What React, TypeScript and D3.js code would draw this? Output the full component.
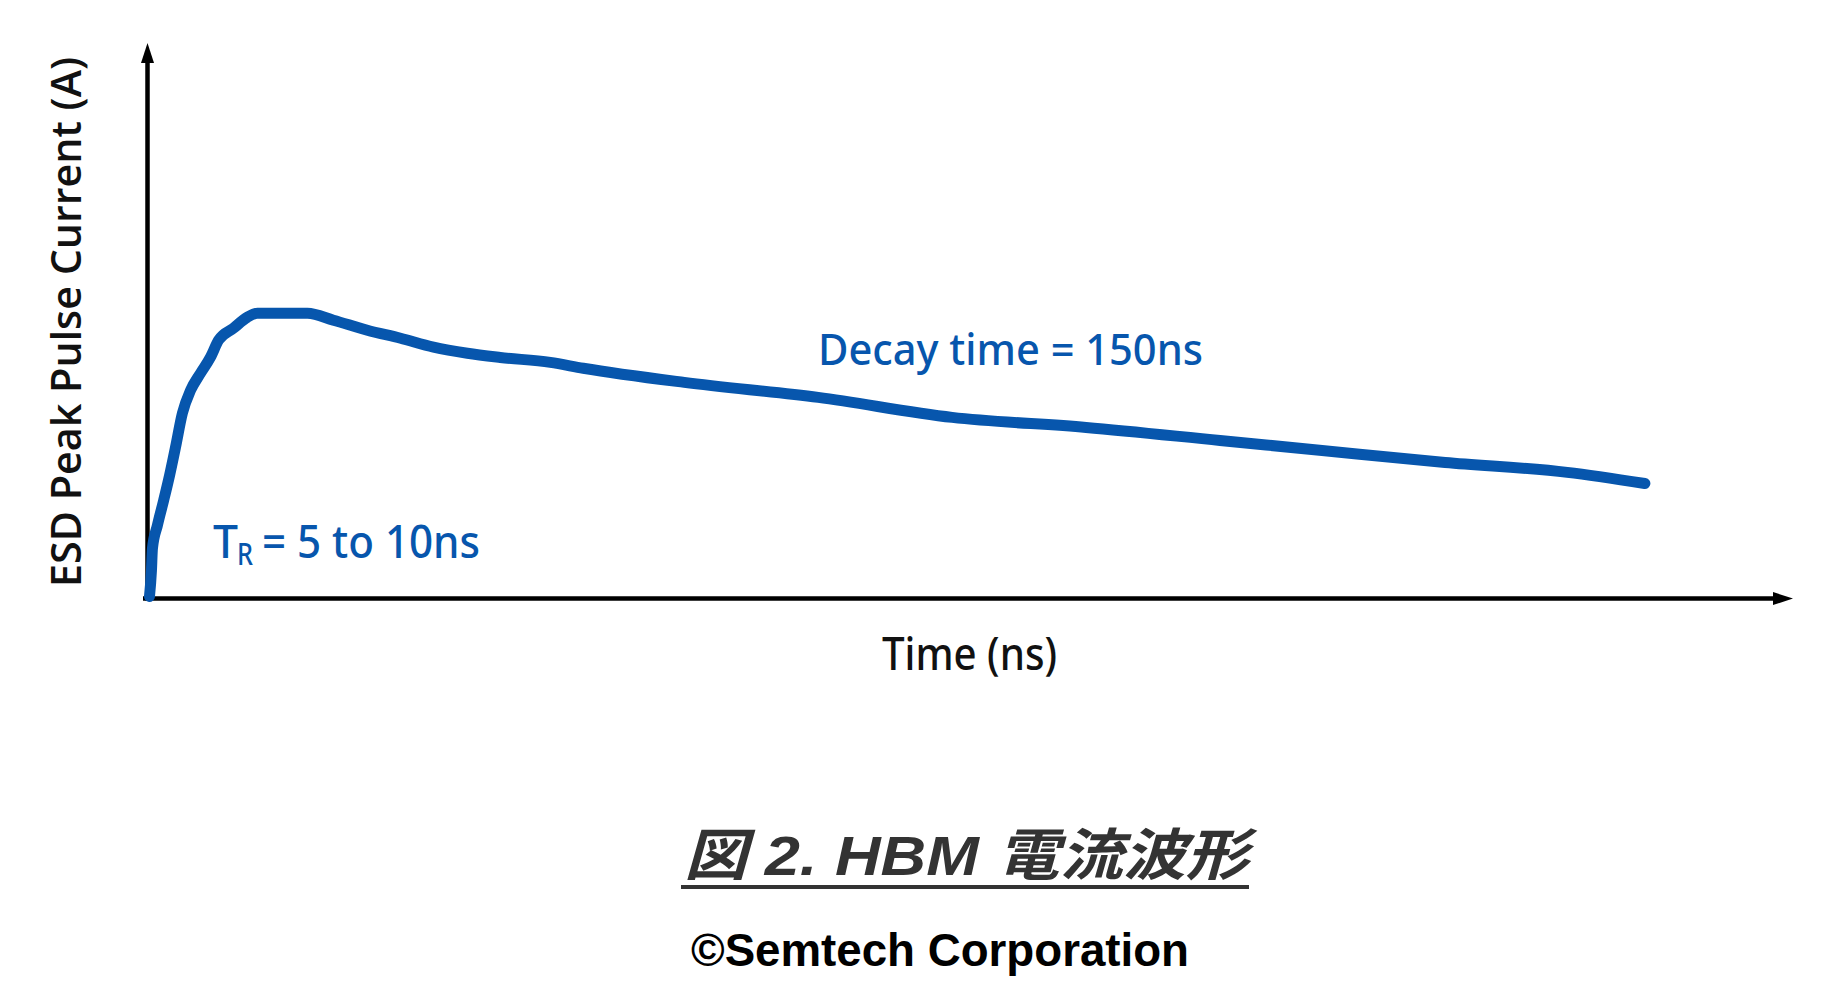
import React from "react";
import * as d3 from "d3";

// Time (ns) and current (A)
const timeNs = [
  0.6, 1.2, 1.5, 3.0, 4.9, 6.7, 8.5, 10.6, 13.1, 16.1, 19.1, 21.6, 26.1, 30.4,
  33.4, 48.6, 56.5, 66.8, 76.9, 86.9, 97.2, 107.2, 122.4, 132.4, 163.1, 203.8,
  244.5, 285.2, 325.9, 356.9, 394.3, 431.4, 455.0,
];
const currentA = [
  0.007, 0.101, 0.18, 0.263, 0.353, 0.443, 0.544, 0.667, 0.75, 0.811, 0.868,
  0.93, 0.973, 1.013, 1.027, 1.027, 1.002, 0.966, 0.937, 0.905, 0.883, 0.868,
  0.85, 0.829, 0.778, 0.724, 0.652, 0.616, 0.569, 0.533, 0.49, 0.454, 0.414,
];
const xDomain = [0, 500];
const yDomain = [0, 2];

const yLabel = "ESD Peak Pulse Current (A)";
const xLabel = "Time (ns)";
const decayLabel = "Decay time = 150ns";
const riseMain = "T";
const riseSub = "R";
const riseRest = "= 5 to 10ns";
const caption = "図 2. HBM 電流波形";
const credit = "©Semtech Corporation";

const BLUE = "#0756ad";

export default function App() {
  const W = 1840;
  const H = 1004;
  const x = d3.scaleLinear().domain(xDomain).range([147.5, 1793]);
  const y = d3.scaleLinear().domain(yDomain).range([598.5, 43]);
  const pts: [number, number][] = timeNs.map((t, i) => [t, currentA[i]]);
  const line = d3
    .line<[number, number]>()
    .x((d) => x(d[0]))
    .y((d) => y(d[1]))
    .curve(d3.curveMonotoneX);

  const x0 = x(0);
  const y0 = y(0);
  const xTip = x(xDomain[1]);
  const yTip = y(yDomain[1]);
  const head = 20;
  const half = 6.5;

  return (
    <svg
      width={W}
      height={H}
      style={{ position: "absolute", left: 0, top: 0, background: "#fff" }}
    >
      <rect x={0} y={0} width={W} height={H} fill="#fff" />
      {/* axes */}
      <line x1={x0} y1={y0 + 2} x2={x0} y2={yTip + head - 1} stroke="#000" strokeWidth={4.5} />
      <path
        d={`M${x0},${yTip} L${x0 - half},${yTip + head} L${x0 + half},${yTip + head} Z`}
        fill="#000"
      />
      <line x1={x0 - 4.5} y1={y0} x2={xTip - head + 1} y2={y0} stroke="#000" strokeWidth={4.5} />
      <path
        d={`M${xTip},${y0} L${xTip - head},${y0 - half} L${xTip - head},${y0 + half} Z`}
        fill="#000"
      />

      {/* waveform */}
      <path
        d={line(pts) || ""}
        fill="none"
        stroke={BLUE}
        strokeWidth={11}
        strokeLinecap="round"
        strokeLinejoin="round"
      />

      {/* annotations */}
      <text
        x={818}
        y={365}
        fill={BLUE}
        fontFamily="'Noto Sans', sans-serif"
        fontWeight={500}
        fontSize={44}
        textLength={385}
        lengthAdjust="spacingAndGlyphs"
      >
        {decayLabel}
      </text>
      <text
        x={213}
        y={558}
        fill={BLUE}
        fontFamily="'Noto Sans', sans-serif"
        fontWeight={500}
        fontSize={45}
        textLength={25}
        lengthAdjust="spacingAndGlyphs"
      >
        {riseMain}
      </text>
      <text
        x={237}
        y={565}
        fill={BLUE}
        fontFamily="'Noto Sans', sans-serif"
        fontWeight={500}
        fontSize={30}
        textLength={16}
        lengthAdjust="spacingAndGlyphs"
      >
        {riseSub}
      </text>
      <text
        x={262}
        y={558}
        fill={BLUE}
        fontFamily="'Noto Sans', sans-serif"
        fontWeight={500}
        fontSize={45}
        textLength={218}
        lengthAdjust="spacingAndGlyphs"
      >
        {riseRest}
      </text>

      {/* axis titles */}
      <text
        transform={`translate(81,322) rotate(-90)`}
        textAnchor="middle"
        fill="#111"
        fontFamily="'Open Sans', sans-serif"
        fontWeight={600}
        fontSize={42}
        textLength={530}
        lengthAdjust="spacingAndGlyphs"
      >
        {yLabel}
      </text>
      <text
        x={882}
        y={670}
        fill="#111"
        fontFamily="'Noto Sans', sans-serif"
        fontWeight={500}
        fontSize={46}
        textLength={175}
        lengthAdjust="spacingAndGlyphs"
      >
        {xLabel}
      </text>

      {/* caption */}
      <text
        x={684}
        y={875}
        fill="#333"
        fontFamily="'Liberation Sans', 'Noto Sans CJK JP', sans-serif"
        fontWeight={700}
        fontStyle="italic"
        fontSize={56}
        textLength={565}
        lengthAdjust="spacingAndGlyphs"
      >
        {caption}
      </text>
      <line x1={681} y1={887} x2={1249} y2={887} stroke="#333" strokeWidth={4} />
      <text
        x={691}
        y={966}
        fill="#000"
        fontFamily="'Liberation Sans', Arial, sans-serif"
        fontWeight={700}
        fontSize={46}
        textLength={498}
        lengthAdjust="spacingAndGlyphs"
      >
        {credit}
      </text>
    </svg>
  );
}
